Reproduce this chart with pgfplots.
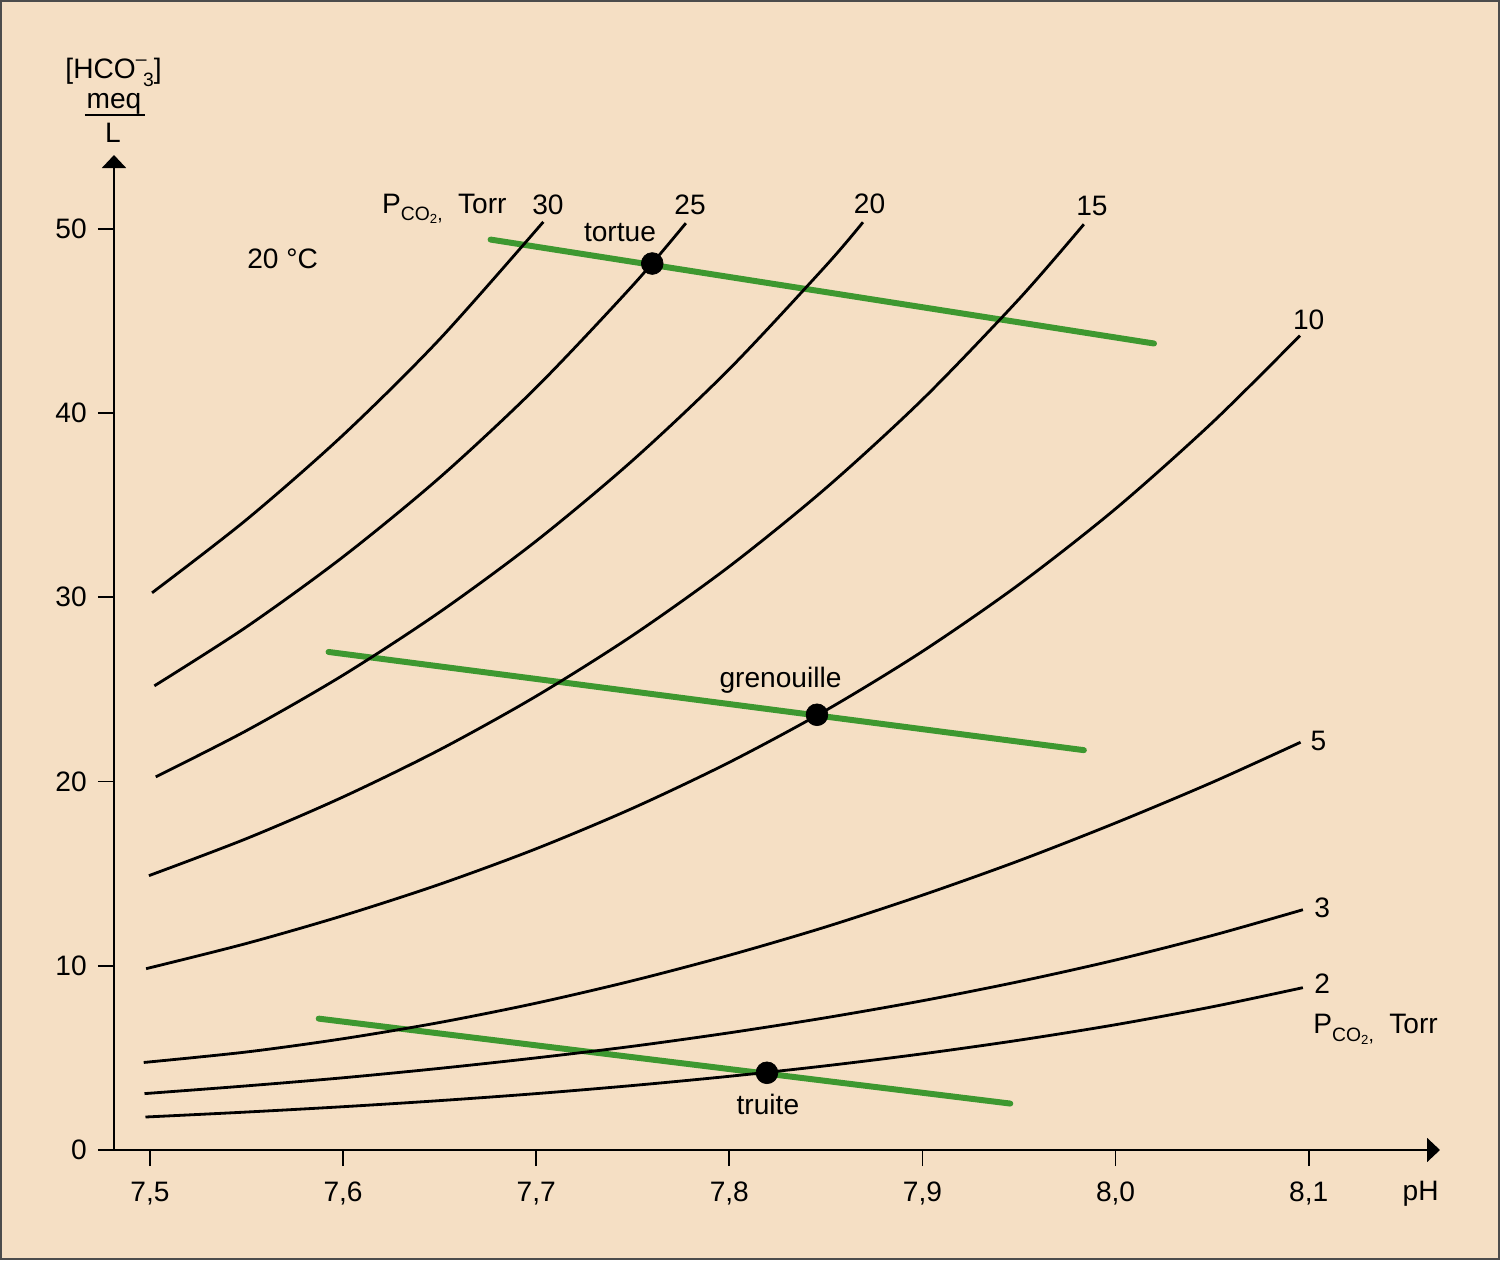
\documentclass[border=0pt]{standalone}
\usepackage{fontspec}
\setmainfont{Liberation Sans}
\usepackage{pgfplots}
\pgfplotsset{compat=1.18}
\usetikzlibrary{arrows.meta}

\definecolor{fond}{RGB}{245,223,196}
\definecolor{vert}{RGB}{62,152,48}

% P_{CO2,} Torr
\newcommand{\pco}{P\raisebox{-0.5ex}{\fontsize{11}{12}\selectfont CO\raisebox{-0.3ex}{\fontsize{7.5}{8}\selectfont 2},}}

\begin{document}
\fontsize{16}{19}\selectfont
\begin{tikzpicture}
% fond et cadre (1 px = 0.2 mm)
\fill[fond] (-2.28cm,-2.20cm) rectangle (27.72cm,23.00cm);
\draw[black!70, line width=0.6pt] (-2.26cm,-2.18cm) rectangle (27.70cm,22.98cm);
\begin{axis}[
    scale only axis,
    width=26.52cm, height=19.90cm,
    xmin=7.4814, xmax=8.168,
    ymin=0, ymax=54,
    axis x line=bottom, axis y line=left,
    axis line style={line width=1.1pt, -{Triangle[length=2.6mm,width=4.8mm]}},
    xtick={7.5,7.6,7.7,7.8,7.9,8.0,8.1},
    ytick={0,10,20,30,40,50},
    tick align=outside,
    major tick length=3.2mm,
    tick style={line width=1pt, black},
    /pgf/number format/assume math mode=true,
    xticklabel style={yshift=-1.2mm, /pgf/number format/.cd, use comma, fixed, fixed zerofill, precision=1},
    yticklabel style={xshift=-0.3mm},
    every axis plot/.append style={line join=round},
    clip=false,
]
% droites tampon (vert)
\addplot[vert, line width=3.4pt, line cap=round] coordinates {(7.6764,49.41) (8.0199,43.77)};
\addplot[vert, line width=3.4pt, line cap=round] coordinates {(7.5925,27.03) (7.9836,21.70)};
\addplot[vert, line width=3.4pt, line cap=round] coordinates {(7.5874,7.13) (7.9455,2.52)};

% isoplethes PCO2 = 30, 25, 20, 15, 10, 5, 3, 2 Torr
\addplot[black, line width=1.6pt, smooth] coordinates {
    (7.5011,30.24) (7.55,34.21) (7.60,38.80) (7.65,44.00) (7.7037,50.37)};
\addplot[black, line width=1.6pt, smooth] coordinates {
    (7.5023,25.19) (7.55,28.39) (7.60,32.19) (7.65,36.49) (7.70,41.38) (7.75,46.92) (7.7775,50.30)};
\addplot[black, line width=1.6pt, smooth] coordinates {
    (7.5030,20.25) (7.55,22.76) (7.60,25.77) (7.65,29.19) (7.70,33.05) (7.75,37.43) (7.80,42.38) (7.85,47.99) (7.8692,50.35)};
\addplot[black, line width=1.6pt, smooth] coordinates {
    (7.4995,14.89) (7.55,16.90) (7.60,19.16) (7.65,21.72) (7.70,24.63) (7.75,27.93) (7.80,31.67) (7.85,35.92) (7.90,40.73) (7.95,46.18) (7.9836,50.24)};
\addplot[black, line width=1.6pt, smooth] coordinates {
    (7.4980,9.84) (7.55,11.21) (7.60,12.72) (7.65,14.42) (7.70,16.35) (7.75,18.55) (7.80,21.04) (7.85,23.86) (7.90,27.06) (7.95,30.69) (8.00,34.80) (8.05,39.47) (8.0955,44.20)};
\addplot[black, line width=1.6pt, smooth] coordinates {
    (7.4968,4.75) (7.55,5.32) (7.60,6.04) (7.65,6.92) (7.70,7.97) (7.75,9.19) (7.80,10.57) (7.85,12.11) (7.90,13.83) (7.95,15.70) (8.00,17.75) (8.05,19.95) (8.0958,22.13)};
\addplot[black, line width=1.6pt, smooth] coordinates {
    (7.4972,3.06) (7.55,3.48) (7.60,3.92) (7.65,4.43) (7.70,5.00) (7.75,5.63) (7.80,6.36) (7.85,7.18) (7.90,8.10) (7.95,9.14) (8.00,10.31) (8.05,11.64) (8.097,13.04)};
\addplot[black, line width=1.6pt, smooth] coordinates {
    (7.4977,1.79) (7.55,2.06) (7.60,2.35) (7.65,2.68) (7.70,3.06) (7.75,3.50) (7.80,4.00) (7.85,4.57) (7.90,5.22) (7.95,5.96) (8.00,6.80) (8.05,7.77) (8.097,8.81)};

% animaux
\addplot[only marks, mark=*, mark size=6.2pt, black] coordinates {(7.7601,48.11) (7.8454,23.62) (7.8195,4.19)};

% etiquettes
\node at (axis cs:7.7061,51.27) {30};
\node at (axis cs:7.7797,51.27) {25};
\node at (axis cs:7.8726,51.33) {20};
\node at (axis cs:7.9878,51.25) {15};
\node at (axis cs:8.1000,45.06) {10};
\node at (axis cs:8.1050,22.19) {5};
\node at (axis cs:8.1070,13.15) {3};
\node at (axis cs:8.1070,9.00) {2};
\node[anchor=base west, inner sep=0pt] at (axis cs:7.6201,50.85) {\pco\hspace{0.55em}Torr};
\node[anchor=base west, inner sep=0pt] at (axis cs:8.1023,6.30) {\pco\hspace{0.55em}Torr};
\node[anchor=base] at (axis cs:7.7434,49.28) {tortue};
\node[anchor=base] at (axis cs:7.5687,47.86) {20 °C};
\node[anchor=base] at (axis cs:7.8265,25.10) {grenouille};
\node[anchor=base] at (axis cs:7.8200,1.95) {truite};
\node[anchor=base] at (axis cs:8.158,0) [yshift=-10mm] {pH};

% titre de l'axe des ordonnees
\node[anchor=base] at (axis cs:7.4812,58.17) {[HCO\raisebox{0.85ex}{\fontsize{11}{12}\selectfont –}\kern-0.12em\raisebox{-0.55ex}{\fontsize{11}{12}\selectfont 3}]};
\node[anchor=base] at (axis cs:7.4814,56.54) {meq};
\draw[line width=1pt] (axis cs:7.4663,56.16) -- (axis cs:7.4974,56.16);
\node[anchor=base] at (axis cs:7.4808,54.69) {L};
\end{axis}
\end{tikzpicture}
\end{document}
